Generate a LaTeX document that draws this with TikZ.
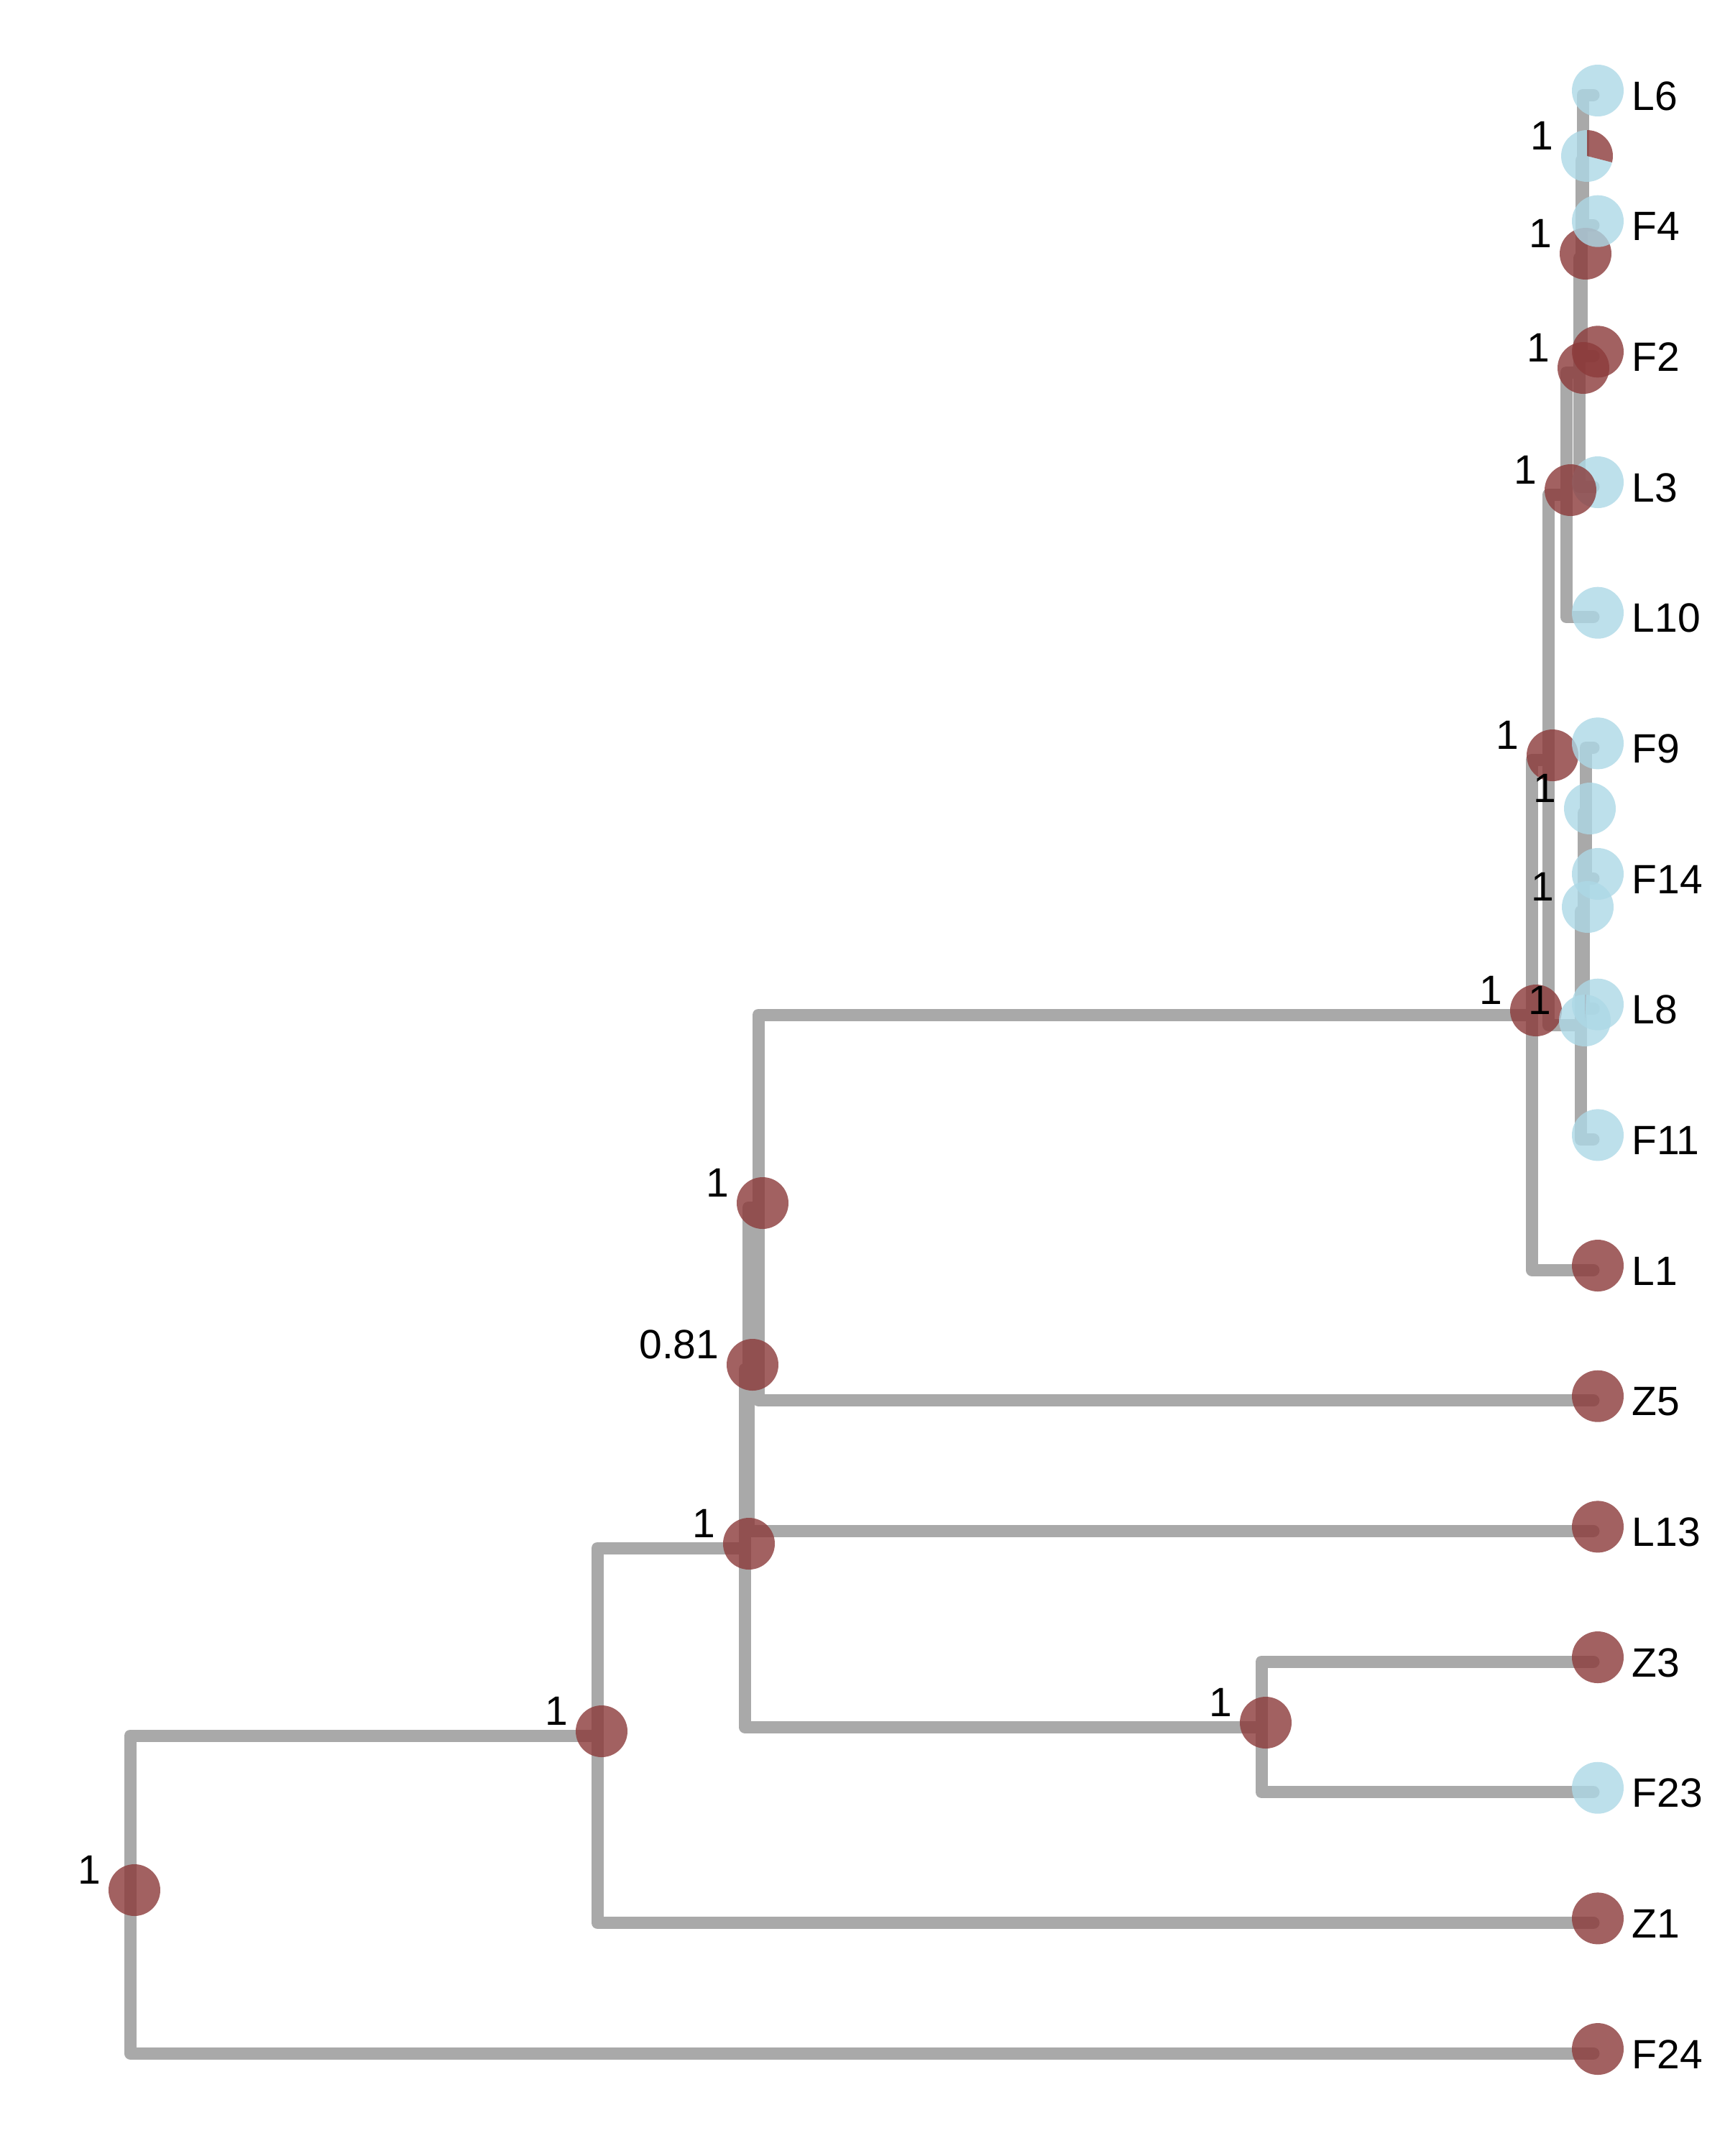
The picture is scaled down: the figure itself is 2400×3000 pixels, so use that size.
\documentclass[tikz,border=0pt]{standalone}
\usepackage{fontspec}
\setmainfont{Liberation Sans}
\definecolor{nred}{HTML}{8B3A3A}
\definecolor{nblue}{HTML}{ADD8E6}
\definecolor{edgegray}{HTML}{A9A9A9}
\begin{document}
\begin{tikzpicture}[x=0.3pt,y=-0.3pt,
  edge/.style={draw=edgegray,line width=5.1pt,line cap=round,line join=round},
  pt/.style={circle,inner sep=0pt,minimum size=21.6pt,fill opacity=0.8,draw=none},
  redpt/.style={pt,fill=nred},
  bluept/.style={pt,fill=nblue},
  piered/.style={fill=nred,fill opacity=0.8},
  pieblue/.style={fill=nblue,fill opacity=0.8},
  tiplab/.style={anchor=base west,inner sep=0pt,font=\fontsize{17.1}{20}\selectfont},
  suplab/.style={anchor=base east,inner sep=0pt,font=\fontsize{17.1}{20}\selectfont}]
\useasboundingbox (0,0) rectangle (2400,3000);

% ---- tree node positions (line geometry)
\coordinate (R) at (181,2636);
\coordinate (A) at (831,2415);
\coordinate (B) at (1036,2154);
\coordinate (C) at (1041,1905);
\coordinate (E) at (1055,1680);
\coordinate (D) at (1755,2403);
\coordinate (F) at (2131,1412);
\coordinate (G) at (2154,1057);
\coordinate (H) at (2179,688);
\coordinate (J) at (2197,518);
\coordinate (K) at (2200,359);
\coordinate (M) at (2202,223);
\coordinate (Q) at (2206,1131);
\coordinate (P) at (2203,1268);
\coordinate (I) at (2199,1426);
% tips
\foreach \n/\i in {L6/0,F4/1,F2/2,L3/3,L10/4,F9/5,F14/6,L8/7,F11/8,L1/9,Z5/10,L13/11,Z3/12,F23/13,Z1/14,F24/15}{
  \coordinate (t\n) at (2217,{126+181.67*\i+6});
}

% ---- edges
\foreach \p/\c in {R/A,R/tF24,A/B,A/tZ1,B/C,B/D,D/tZ3,D/tF23,C/E,C/tL13,E/F,E/tZ5,
  F/G,F/tL1,G/H,G/I,H/J,H/tL10,J/K,J/tL3,K/M,K/tF2,M/tL6,M/tF4,I/P,I/tF11,P/Q,P/tL8,Q/tF9,Q/tF14}{
  \draw[edge] (\p) |- (\c);
}

% ---- internal node points
\node[redpt] (cR) at (187,2630) {};
\node[redpt] (cA) at (837,2409) {};
\node[redpt] (cB) at (1042,2148) {};
\node[redpt] (cC) at (1047,1899) {};
\node[redpt] (cE) at (1061,1674) {};
\node[redpt] (cD) at (1761,2397) {};
\node[redpt] (cF) at (2137,1406) {};
\node[redpt] (cG) at (2160,1051) {};
\node[redpt] (cJ) at (2203,512) {};
\node[redpt] (cK) at (2206,353) {};
\node[bluept] (cQ) at (2212,1125) {};
\node[bluept] (cP) at (2209,1262) {};
% pie at M
\coordinate (cM) at (2208,217);
\fill[pieblue] (cM) -- ++(-14.4:10.8pt) arc[start angle=-14.4,end angle=-270,radius=10.8pt] -- cycle;
\fill[piered] (cM) -- ++(90:10.8pt) arc[start angle=90,end angle=-14.4,radius=10.8pt] -- cycle;
% pie at I
\coordinate (cI) at (2205,1420);
\fill[pieblue] (cI) -- ++(87:10.8pt) arc[start angle=87,end angle=-270,radius=10.8pt] -- cycle;
\fill[piered] (cI) -- ++(90:10.8pt) arc[start angle=90,end angle=87,radius=10.8pt] -- cycle;

% ---- tip points
\foreach \n/\i/\col in {L6/0/bluept,F4/1/bluept,F2/2/redpt,L3/3/bluept,L10/4/bluept,F9/5/bluept,
  F14/6/bluept,L8/7/bluept,F11/8/bluept,L1/9/redpt,Z5/10/redpt,L13/11/redpt,Z3/12/redpt,
  F23/13/bluept,Z1/14/redpt,F24/15/redpt}{
  \node[\col] (p\n) at (2223,{126+181.67*\i}) {};
  \node[tiplab] (n\n) at (2270,{126+181.67*\i+27}) {\n};
}
\node[redpt] (cH) at (2185,682) {};

% ---- support labels
\node[suplab] (sR) at (141,2621) {1};
\node[suplab] (sA) at (791,2400) {1};
\node[suplab] (sB) at (996,2139) {1};
\node[suplab] (sC) at (1001,1890) {0.81};
\node[suplab] (sE) at (1015,1665) {1};
\node[suplab] (sD) at (1715,2388) {1};
\node[suplab] (sF) at (2091,1397) {1};
\node[suplab] (sG) at (2114,1042) {1};
\node[suplab] (sH) at (2139,673) {1};
\node[suplab] (sJ) at (2157,503) {1};
\node[suplab] (sK) at (2160,344) {1};
\node[suplab] (sM) at (2162,208) {1};
\node[suplab] (sQ) at (2166,1116) {1};
\node[suplab] (sP) at (2163,1253) {1};
\node[suplab] (sI) at (2159,1411) {1};
\end{tikzpicture}
\end{document}
